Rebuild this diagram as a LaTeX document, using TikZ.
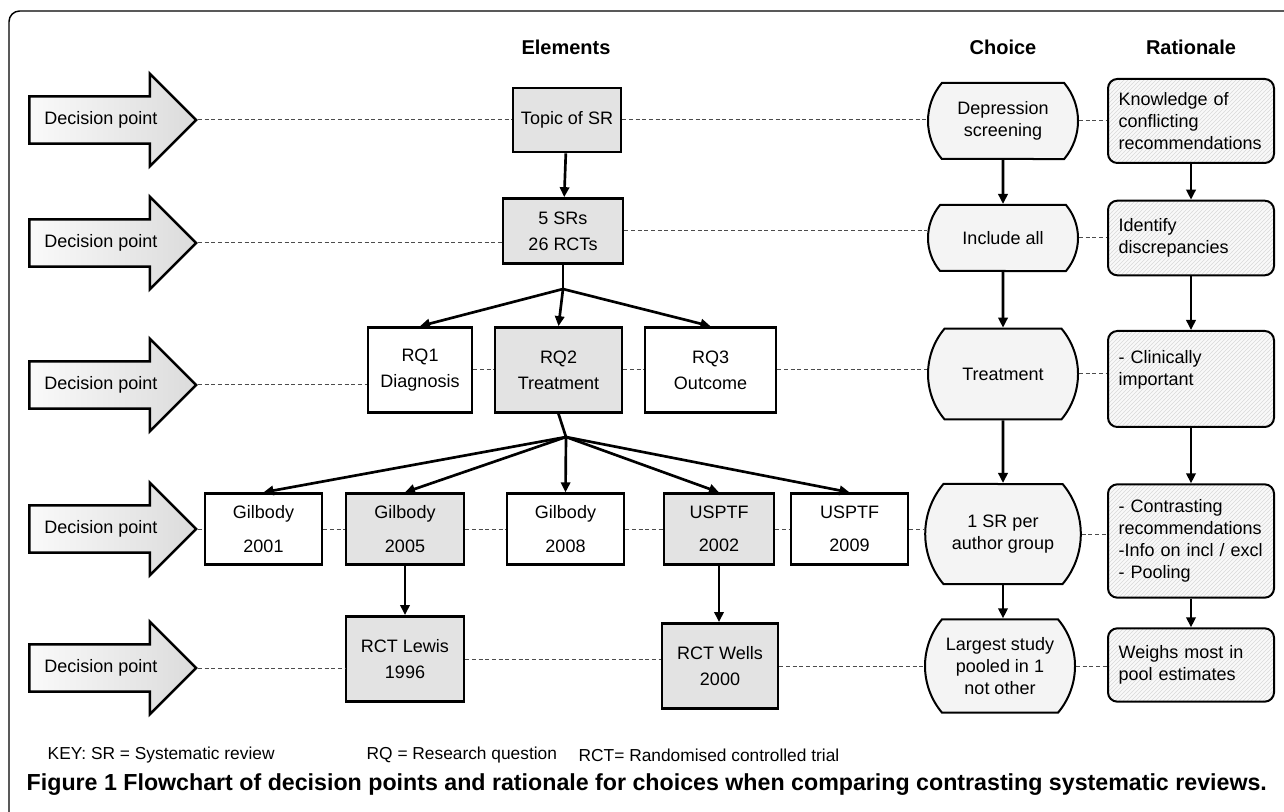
\documentclass[tikz,border=0pt]{standalone}
\usepackage{fontspec}
\setmainfont{Liberation Sans}
\usetikzlibrary{positioning,shapes.arrows,shapes.misc,patterns,arrows.meta}

\tikzset{
  decision/.style={single arrow, draw, line width=1.9pt, left color=gray!4, right color=gray!28,
    minimum height=125pt, single arrow head extend=17pt, inner ysep=11pt,
    text height=9pt, text depth=2.5pt, font=\fontsize{13.5}{15}\selectfont},
  element/.style={rectangle, draw, line width=2pt, align=center, inner sep=0pt,
    font=\fontsize{13.5}{19.5}\selectfont},
  picked/.style={element, fill=gray!22},
  choice/.style={rounded rectangle, rounded rectangle arc length=80, draw, line width=1.5pt,
    fill=gray!9, align=center, inner sep=0pt, minimum width=112.5pt, font=\fontsize{13.5}{16.5}\selectfont},
  reason/.style={rectangle, rounded corners=7pt, draw, line width=1.5pt, preaction={fill=gray!5},
    pattern=north east lines, pattern color=gray!30, align=left, text width=108.5pt,
    inner xsep=8pt, inner ysep=0pt, font=\fontsize{13.5}{16.5}\selectfont},
  link/.style={line width=2pt, -{Triangle[length=7.5pt,width=7pt]}},
  dline/.style={dash pattern=on 3pt off 2pt, gray!60!black, line width=0.75pt},
  head/.style={font=\bfseries\fontsize{15}{17}\selectfont},
  keytext/.style={anchor=west, font=\fontsize{13}{15}\selectfont}
}

\begin{document}
\begin{tikzpicture}[x=0.75pt,y=-0.75pt]
\useasboundingbox (0,0) rectangle (1284,812);
% frame
\draw[line width=1.1pt, rounded corners=8pt] (1284,11) -- (9,11) -- (9,812);

% column heads
\node[head] (hElem) at (566,47) {Elements};
\node[head] (hChoice) at (1003,47) {Choice};
\node[head] (hRat) at (1191,47) {Rationale};

% decision points
\node[decision] (dp1) at (101,120) {Decision point};
\node[decision] (dp2) at (101,243) {Decision point};
\node[decision] (dp3) at (101,385) {Decision point};
\node[decision] (dp4) at (101,529) {Decision point};
\node[decision] (dp5) at (101,668) {Decision point};

% elements
\node[picked, minimum width=81pt, minimum height=48pt] (topic) at (567,120) {Topic of SR};
\node[picked, minimum width=90pt, minimum height=48.75pt] (srs) at (563,231) {5 SRs\\26 RCTs};
\node[element, minimum width=78pt, minimum height=63.75pt] (rq1) at (420,370) {RQ1\\Diagnosis};
\node[picked, minimum width=95.25pt, minimum height=63.75pt] (rq2) at (558.5,370) {RQ2\\Treatment};
\node[element, minimum width=98.25pt, minimum height=63.75pt] (rq3) at (710.5,370) {RQ3\\Outcome};
\node[element, minimum width=87.75pt, minimum height=53pt] (g2001) at (263.5,529) {Gilbody\\[5.5pt]2001};
\node[picked, minimum width=88.5pt, minimum height=53pt] (g2005) at (405,529) {Gilbody\\[5.5pt]2005};
\node[element, minimum width=87.75pt, minimum height=53pt] (g2008) at (565.5,529) {Gilbody\\[5.5pt]2008};
\node[picked, minimum width=82.5pt, minimum height=53pt] (u2002) at (719,529) {USPTF\\[5.5pt]2002};
\node[element, minimum width=87.75pt, minimum height=53pt] (u2009) at (849.5,529) {USPTF\\[5.5pt]2009};
\node[picked, minimum width=88.5pt, minimum height=64pt] (lewis) at (405,659) {RCT Lewis\\1996};
\node[picked, minimum width=87pt, minimum height=64pt] (wells) at (720,666) {RCT Wells\\2000};

% choices
\node[choice, minimum height=57pt] (dep) at (1003,121) {Depression\\screening};
\node[choice, minimum height=49.5pt] (incl) at (1003,238) {Include all};
\node[choice, minimum height=68pt] (treat) at (1003,374) {Treatment};
\node[choice, minimum height=75pt] (sr1) at (1003,534) {1 SR per\\author group};
\node[choice, minimum height=70pt] (largest) at (1000,666) {Largest study\\pooled in 1\\not other};

% rationale
\node[reason, minimum height=63pt] (know) at (1191,121) {Knowledge of\\conflicting\\recommendations};
\node[reason, minimum height=56pt] (ident) at (1191,238) {Identify\\discrepancies};
\node[reason, minimum height=72pt] (clin) at (1191,379) {- Clinically\\important\\\mbox{}};
\node[reason, minimum height=85pt] (contr) at (1191,541) {- Contrasting\\recommendations\\-Info on incl / excl\\- Pooling};
\node[reason, minimum height=55pt] (weigh) at (1191,665) {Weighs most in\\pool estimates};

% branch points
\coordinate (b1) at (563,289);
\coordinate (b2) at (566,437);

% dashed row lines
\draw[dline] (dp1.tip) -- (dp1.tip -| topic.west);
\draw[dline] (topic.east) -- (topic.east -| dep.west);
\draw[dline] (dep.east) -- (dep.east -| know.west);
\draw[dline] (dp2.tip) -- (dp2.tip -| srs.west);
\draw[dline] (srs.east) -- (srs.east -| incl.west);
\draw[dline] (incl.east) -- (incl.east -| ident.west);
\draw[dline] (dp3.tip) -- (dp3.tip -| rq1.west);
\draw[dline] (rq1.east) -- (rq1.east -| rq2.west);
\draw[dline] (rq2.east) -- (rq2.east -| rq3.west);
\draw[dline] (rq3.east) -- (rq3.east -| treat.west);
\draw[dline] (treat.east) -- (treat.east -| clin.west);
\draw[dline] (dp4.tip) -- (dp4.tip -| g2001.west);
\draw[dline] (g2001.east) -- (g2001.east -| g2005.west);
\draw[dline] (g2005.east) -- (g2005.east -| g2008.west);
\draw[dline] (g2008.east) -- (g2008.east -| u2002.west);
\draw[dline] (u2002.east) -- (u2002.east -| u2009.west);
\draw[dline] (u2009.east) -- (u2009.east -| sr1.west);
\draw[dline] (sr1.east) -- (sr1.east -| contr.west);
\draw[dline] (dp5.tip) -- (dp5.tip -| lewis.west);
\draw[dline] (lewis.east) -- (lewis.east -| wells.west);
\draw[dline] (wells.east) -- (wells.east -| largest.west);
\draw[dline] (largest.east) -- (largest.east -| weigh.west);

% element arrows
\draw[link] (topic) -- (srs);
\draw[line width=2pt] (srs.south) -- (b1);
\foreach \n in {rq1,rq2,rq3}
  \draw[link] (b1) -- (\n.north);
\draw[line width=2pt] (rq2.south) -- (b2);
\foreach \n in {g2001,g2005,g2008,u2002,u2009}
  \draw[link] (b2) -- (\n.north);
\draw[link] (g2005) -- (lewis);
\draw[link] (u2002.south) -- (u2002.south |- wells.north);

% choice and rationale arrows
\draw[link] (dep) -- (incl);
\draw[link] (incl) -- (treat);
\draw[link] (treat) -- (sr1);
\draw[link] (sr1.south) -- (sr1.south |- largest.north);
\draw[link] (know) -- (ident);
\draw[link] (ident) -- (clin);
\draw[link] (clin) -- (contr);
\draw[link] (contr.south) -- (contr.south |- weigh.north);

% key and caption
\node[keytext] (key1) at (43,755) {KEY: SR = Systematic review};
\node[keytext] (key2) at (362,755) {RQ = Research question};
\node[keytext] (key3) at (574,755) {RCT= Randomised controlled trial};
\node[anchor=west, font=\bfseries\fontsize{17.4}{19}\selectfont] (cap) at (22,785)
  {Figure 1 Flowchart of decision points and rationale for choices when comparing contrasting systematic reviews.};
\end{tikzpicture}
\end{document}
